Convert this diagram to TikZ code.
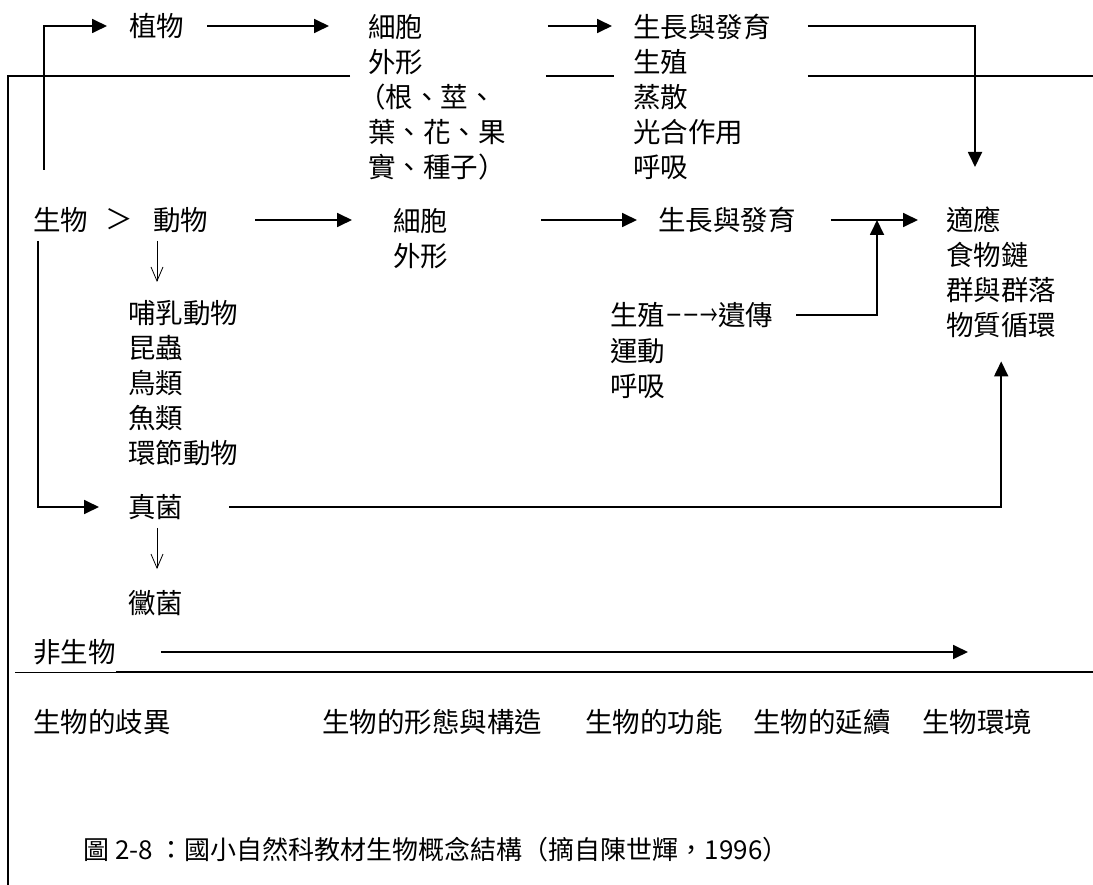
\documentclass[tikz,border=0pt]{standalone}
\usepackage{fontspec}
\setmainfont{Noto Sans CJK TC}
\usepackage{graphicx}
\usetikzlibrary{positioning,arrows.meta,calc}

\begin{document}
\begin{tikzpicture}[
    x=1pt, y=-1pt,
    % Estilos
    every node/.style={inner sep=0pt, anchor=west, font=\fontsize{27.5}{35}\selectfont},
    list/.style={align=left, anchor=north west},
    link/.style={draw, line width=1.8pt},
    arr/.style={draw, line width=1.8pt, -{Triangle[length=15pt,width=14pt]}},
    thinarr/.style={draw, line width=0.8pt, -{Straight Barb[length=14pt,width=12pt]}}
]
\useasboundingbox (0,0) rectangle (1093,885);

% Plant row
\node (plant) at (129,26) {植物};
\node[list] (cellP) at (368,14) {細胞\\外形\\\hspace*{-10pt}（根、莖、\\葉、花、果\\實、種子）};
\node[list] (growP) at (633,14) {生長與發育\\生殖\\蒸散\\光合作用\\呼吸};

% Animal row
\node (bio) at (33,220) {生物};
\node[anchor=center] (gt) at (119,219) {＞};
\node (animal) at (153,220) {動物};
\node[list] (cellA) at (393,208) {細胞\\外形};
\node (growA) at (658,220) {生長與發育};
\node[list] (adapt) at (946,207) {適應\\食物鏈\\群與群落\\物質循環};
\node[list] (kinds) at (128,300) {哺乳動物\\昆蟲\\鳥類\\魚類\\環節動物};
\node (heredity) at (610,315) {生殖\scalebox{0.64}[1]{－－→}遺傳};
\node[list] (motion) at (610,338) {運動\\呼吸};

% Fungi and non-living
\node (fungi) at (128,507) {真菌};
\node (mold) at (128,603) {黴菌};
\node (nonbio) at (33,652) {非生物};

% Bottom labels
\node (diverse) at (33,722) {生物的歧異};
\node (form) at (322,722) {生物的形態與構造};
\node (func) at (585,722) {生物的功能};
\node (contin) at (753,722) {生物的延續};
\node (envir) at (922,722) {生物環境};
\node[font=\fontsize{26}{30}\selectfont] (caption) at (83,850) {圖 2-8 ：國小自然科教材生物概念結構（摘自陳世輝，1996）};

% Frame and separators
\coordinate (topL) at (8,76);
\coordinate (topR) at (1093,76);
\coordinate (botL) at (8,885);
\coordinate (sepL) at (15,672);
\coordinate (sepR) at (1093,672);
\draw[link, shorten <=18pt] (cellP.west |- topL) -- (topL) -- (botL);
\draw[link, shorten <=40pt, shorten >=19pt] (cellP.east |- topL) -- (growP.west |- topL);
\draw[link, shorten <=37pt] (growP.east |- topL) -- (topR);
\draw[line width=1pt] (sepL) -- (nonbio.east |- sepL);
\draw[link] (nonbio.east |- sepL) -- (sepR);

% Plant arrows
\coordinate (plantRoot) at (44,170);
\coordinate (toEnv) at (975,167);
\draw[arr, shorten >=22pt] (plantRoot) |- (plant.west);
\draw[arr, shorten <=23pt, shorten >=39pt] (plant.east) -- (plant.east -| cellP.west);
\draw[arr, shorten <=42pt, shorten >=21pt] (cellP.east |- plant) -- (growP.west |- plant);
\draw[arr, shorten <=37pt] (growP.east |- plant) -| (toEnv);

% Animal arrows
\coordinate (join) at (877,220);
\draw[arr, shorten <=47pt, shorten >=41pt] (animal.east) -- (animal.east -| cellA.west);
\draw[arr, shorten <=93pt, shorten >=21pt] (cellA.east |- animal) -- (growA.west);
\draw[arr, shorten <=35pt, shorten >=28pt] (growA.east) -- (growA.east -| adapt.west);
\draw[arr, shorten <=23pt] (heredity.east) -| (join);
\draw[thinarr, shorten <=8pt, shorten >=18pt] ([xshift=4pt]animal.south west) -- ([xshift=4pt]animal.south west |- kinds.north);

% Fungi arrows
\draw[arr, shorten <=8pt, shorten >=29pt] ([xshift=5pt]bio.south west) |- (fungi.west);
\draw[thinarr, shorten <=8pt, shorten >=21pt] ([xshift=29pt]fungi.south west) -- ([xshift=29pt]mold.north west);
\draw[arr, shorten <=46pt, shorten >=23pt] (fungi.east) -| (adapt.south);

% Non-living
\coordinate (nonbioEnd) at (968,646);
\draw[arr, shorten <=45pt] (nonbio.east) -- (nonbio.east -| nonbioEnd);

\end{tikzpicture}
\end{document}
